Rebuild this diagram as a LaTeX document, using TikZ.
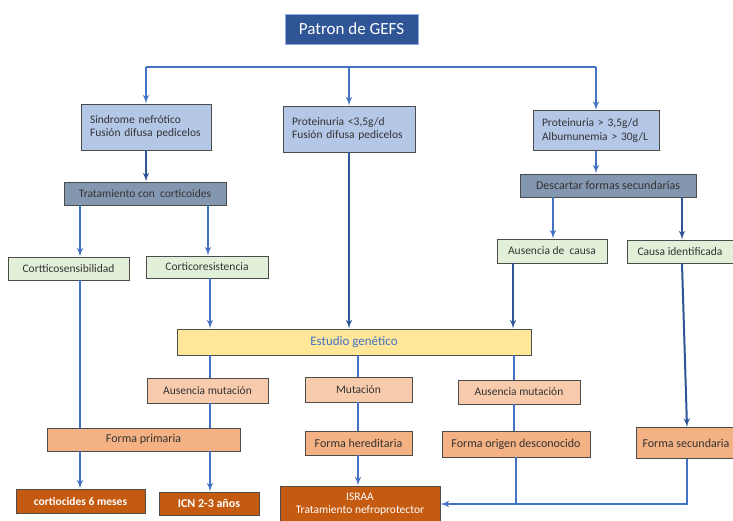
\documentclass[tikz,border=0pt]{standalone}
\usepackage{fontspec}
\setmainfont{Carlito}
\usepackage{xcolor}
\usetikzlibrary{arrows, positioning}

\definecolor{lineblue}{HTML}{4472C4}
\definecolor{darkblue}{HTML}{2F5597}
\definecolor{paleblue}{HTML}{B4C7E7}
\definecolor{slateblue}{HTML}{8497B0}
\definecolor{palegreen}{HTML}{E2F0D9}
\definecolor{paleyellow}{HTML}{FFE699}
\definecolor{palesalmon}{HTML}{F8CBAD}
\definecolor{salmon}{HTML}{F4B183}
\definecolor{rust}{HTML}{C55A11}

\begin{document}
\begin{tikzpicture}[
    x=1pt, y=-1pt,
    font=\fontsize{11.5}{13.5}\selectfont,
    box/.style={rectangle, draw=black!70, line width=0.8pt, text=black!80, inner sep=2pt, align=center},
    title/.style={rectangle, draw=lineblue!60, fill=darkblue, text=white, font=\fontsize{17}{20}\selectfont, minimum width=133pt, minimum height=30pt},
    info/.style={box, fill=paleblue, align=left, inner xsep=9pt, minimum height=46pt},
    treat/.style={box, fill=slateblue, minimum height=23pt},
    result/.style={box, fill=palegreen, minimum height=23pt},
    study/.style={box, fill=paleyellow, text=lineblue, font=\fontsize{13}{15}\selectfont, minimum height=26pt},
    muta/.style={box, fill=palesalmon, minimum height=25pt},
    form/.style={box, fill=salmon, font=\fontsize{12}{14}\selectfont, minimum height=24pt},
    final/.style={box, fill=rust, text=white, minimum height=24pt},
    line/.style={draw, -latex', line width=2pt, lineblue},
    darkline/.style={line, darkblue},
    link/.style={draw, line width=2pt, lineblue}
]
\useasboundingbox (0,0) rectangle (733,521);

% Cabecera
\node[title] (title) at (351.5,29) {Patron de GEFS};
\coordinate (split) at (349,67);

\node[info, text width=112pt] (sn) at (146,127) {Sindrome nefrótico\\Fusión difusa pedicelos};
\node[info, text width=114pt] (prot1) at (349,129) {Proteinuria <3,5g/d\\Fusión difusa pedicelos};
\node[info, text width=108pt, minimum height=40pt] (prot2) at (596,130.5) {Proteinuria > 3,5g/d\\Albumunemia > 30g/L};

% Tratamiento y descarte
\node[treat, minimum width=162pt] (trat) at (145,193.5) {Tratamiento con\ \ corticoides};
\node[treat, minimum width=176pt, font=\fontsize{12}{14}\selectfont] (desc) at (608,185.5) {Descartar formas secundarias};

\node[result, minimum width=121pt] (csens) at (68.5,268.5) {Cortticosensibilidad};
\node[result, minimum width=122pt, minimum height=22pt] (cres) at (207,267) {Corticoresistencia};
\node[result, minimum width=110pt, minimum height=24pt] (ausc) at (552,251) {Ausencia de\ \ causa};
\node[result, minimum width=106pt] (causa) at (680,251.5) {Causa identificada};

% Estudio genético
\node[study, minimum width=354pt] (estudio) at (354,342) {Estudio genético};

\node[muta, minimum width=121pt] (am1) at (207.5,390.5) {Ausencia mutación};
\node[muta, minimum width=107pt] (mut) at (358.5,389.5) {Mutación};
\node[muta, minimum width=122pt, minimum height=24pt] (am2) at (519,392) {Ausencia mutación};

% Formas
\node[form, minimum width=193pt, minimum height=23pt] (fprim) at (143.5,439.5) {Forma primaria};
\node[form, minimum width=107pt] (fhered) at (358.5,443) {Forma hereditaria};
\node[form, minimum width=148pt, minimum height=26pt] (forig) at (516,444) {Forma origen desconocido};
\node[form, minimum width=100pt, minimum height=31pt] (fsec) at (686,443) {Forma secundaria};

% Tratamientos finales
\node[final, minimum width=129pt, font=\fontsize{11.5}{13.5}\selectfont\bfseries] (cort6) at (80.5,501) {cortiocides 6 meses};
\node[final, minimum width=100pt, minimum height=23pt, font=\fontsize{12}{14}\selectfont\bfseries] (icn) at (209,503.5) {ICN 2-3 años};
\node[final, minimum width=160pt, minimum height=36pt] (israa) at (360,504) {ISRAA\\Tratamiento nefroprotector};

% Conexiones
\path[link] (split) -- (split -| sn.north);
\path[link] (split) -- (split -| prot2.north);
\path[line] (split -| sn.north) -- (sn.north);
\path[line] (split) -- (prot1.north);
\path[line] (split -| prot2.north) -- (prot2.north);

\path[darkline] (sn.south) -- (sn.south |- trat.north);
\path[line] (prot2.south) -- (prot2.south |- desc.north);

\path[line] (trat.south -| 80,0) -- (csens.north -| 80,0);
\path[line] (trat.south -| 208,0) -- (cres.north -| 208,0);
\path[line] (desc.south -| 553,0) -- (ausc.north -| 553,0);
\path[darkline] (desc.south -| 682,0) -- (causa.north -| 682,0);

\path[line] (cres.south -| 210,0) -- (estudio.north -| 210,0);
\path[darkline] (prot1.south) -- (prot1.south |- estudio.north);
\path[darkline] (ausc.south -| 513,0) -- (estudio.north -| 513,0);

\path[link] (estudio.south -| 210,0) -- (am1.north -| 210,0);
\path[link] (estudio.south -| 358,0) -- (mut.north -| 358,0);
\path[link] (estudio.south -| 514,0) -- (am2.north -| 514,0);

\path[link] (csens.south -| 80,0) -- (fprim.north -| 80,0);
\path[link] (am1.south -| 210,0) -- (fprim.north -| 210,0);
\path[link] (mut.south -| 358,0) -- (fhered.north -| 358,0);
\path[link] (am2.south -| 514,0) -- (forig.north -| 514,0);
\path[darkline] (causa.south -| 682,0) -- (fsec.north -| 687,0);

\path[line] (fprim.south -| 80,0) -- (cort6.north -| 80,0);
\path[line] (fprim.south -| 210,0) -- (icn.north -| 210,0);
\path[line] (fhered.south -| 358,0) -- (israa.north -| 358,0);

\path[link] (forig.south) -- (forig.south |- israa.east);
\path[line] (fsec.south -| 687,0) |- (israa.east);

\end{tikzpicture}
\end{document}
